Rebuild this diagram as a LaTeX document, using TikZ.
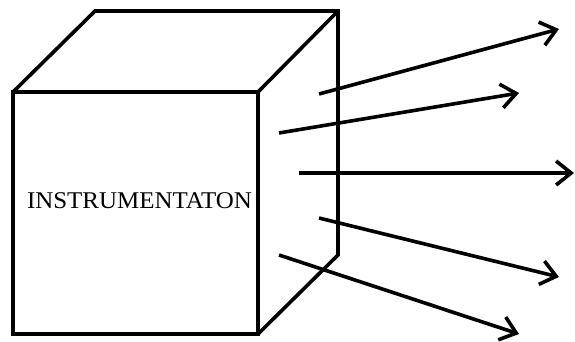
\documentclass[tikz,border=0pt]{standalone}
\usepackage{fontspec}
\setmainfont{Liberation Serif}
\usetikzlibrary{arrows.meta}
\begin{document}
\begin{tikzpicture}[x=1pt,y=-1pt,
  edge/.style={line width=3.6pt},
  ray/.style={line width=3.6pt,-{Straight Barb[length=15pt,width=24pt,line width=3.6pt]}},
  lbl/.style={font=\fontsize{24}{28}\selectfont, inner sep=0pt}]
\useasboundingbox[fill=white] (0,0) rectangle (575,341);
% cube
\coordinate (ftl) at (13,92);
\coordinate (ftr) at (258,92);
\coordinate (fbr) at (258,334);
\coordinate (fbl) at (13,334);
\coordinate (btl) at (95,11);
\coordinate (btr) at (338,11);
\coordinate (bbr) at (338,255);
\draw[edge] (ftl) -- (ftr) -- (fbr) -- (fbl) -- cycle;
\draw[edge] (ftl) -- (btl) -- (btr) -- (bbr) -- (fbr);
\draw[edge] (btr) -- (ftr);
\node[lbl] (label) at (139.5,201) {\scalebox{1.04}[1]{INSTRUMENTATON}};
% rays
\coordinate (s1) at (319,94);  \coordinate (e1) at (559,29);
\coordinate (s2) at (279,133); \coordinate (e2) at (519,93);
\coordinate (s3) at (299,173); \coordinate (e3) at (574,173);
\coordinate (s4) at (319,218); \coordinate (e4) at (559,277);
\coordinate (s5) at (279,255); \coordinate (e5) at (519,334);
\foreach \i in {1,...,5} \draw[ray] (s\i) -- (e\i);
\end{tikzpicture}
\end{document}
